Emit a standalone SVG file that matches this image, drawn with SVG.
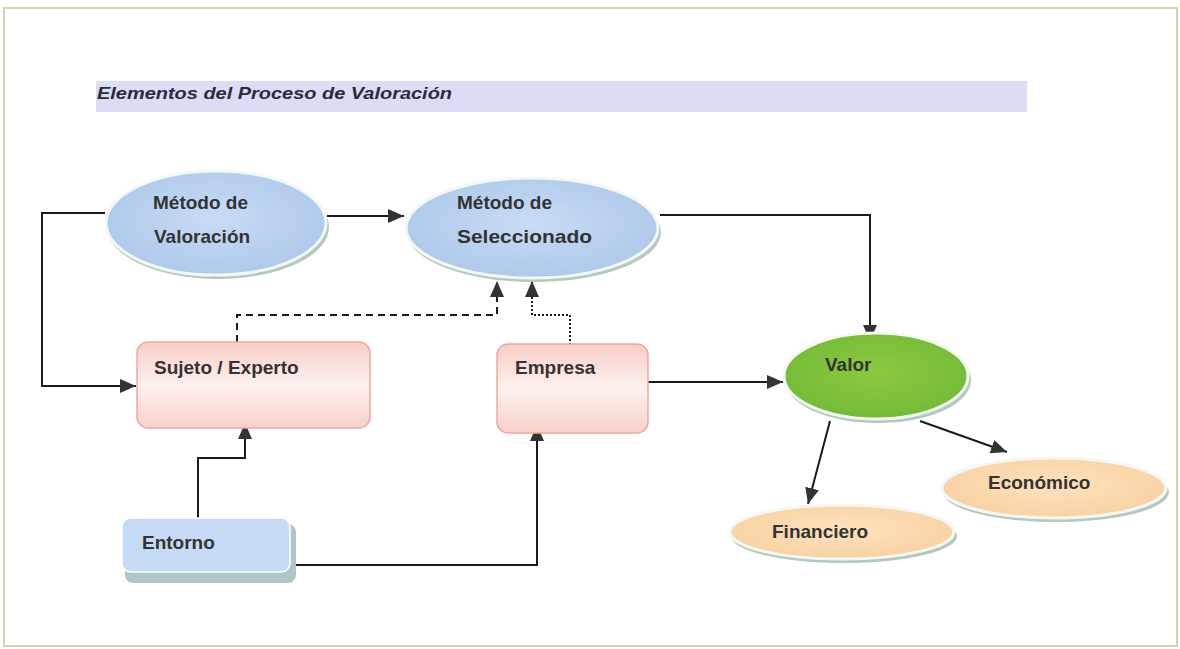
<svg xmlns="http://www.w3.org/2000/svg" width="1180" height="649" viewBox="0 0 1180 649">
  <defs>
    <radialGradient id="gBlue" cx="50%" cy="45%" r="60%">
      <stop offset="0" stop-color="#c8dcf4"/>
      <stop offset="1" stop-color="#abc7ea"/>
    </radialGradient>
    <radialGradient id="gGreen" cx="50%" cy="45%" r="60%">
      <stop offset="0" stop-color="#8dc940"/>
      <stop offset="1" stop-color="#72b936"/>
    </radialGradient>
    <radialGradient id="gPeach" cx="50%" cy="45%" r="60%">
      <stop offset="0" stop-color="#fde2bf"/>
      <stop offset="1" stop-color="#f8d09f"/>
    </radialGradient>
    <linearGradient id="gPink" x1="0" y1="0" x2="0" y2="1">
      <stop offset="0" stop-color="#f8cdc6"/>
      <stop offset="0.5" stop-color="#fdf1ef"/>
      <stop offset="1" stop-color="#f7d0c9"/>
    </linearGradient>
    <marker id="arr" markerUnits="userSpaceOnUse" markerWidth="17" markerHeight="14" refX="16" refY="7" orient="auto">
      <path d="M0,0 L16,7 L0,14 z" fill="#333"/>
    </marker>
    <style>
      .lbl { font-family: "Liberation Sans", Arial, sans-serif; font-weight: bold; font-size: 19px; fill: #333; }
      .conn { fill: none; stroke: #1a1a1a; stroke-width: 2; marker-end: url(#arr); }
      .shadowE { fill: #b3c9bd; }
      .rimE { stroke: #f4f8f4; stroke-width: 3; }
      .box { stroke: #f0a8a0; stroke-width: 1.5; fill: url(#gPink); }
    </style>
  </defs>

  <rect x="4" y="8" width="1173" height="638" fill="#ffffff" stroke="#c9d9aa" stroke-width="2"/>

  <g id="title">
    <rect x="96" y="81" width="931" height="31" fill="#dcdcf7"/>
    <text x="97" y="99" font-family="Liberation Sans, Arial, sans-serif" font-style="italic" font-weight="bold" font-size="17" fill="#2b2b3a" textLength="355" lengthAdjust="spacingAndGlyphs">Elementos del Proceso de Valoración</text>
  </g>

  <g id="connectors">
    <path class="conn" d="M327,216 H404"/>
    <path class="conn" d="M105,213 H42 V386 H136"/>
    <path class="conn" d="M237,342 V315 H497 V281" stroke-dasharray="7,5"/>
    <path class="conn" d="M570,345 V315 H532 V281" stroke-dasharray="2,2"/>
    <path class="conn" d="M660,215 H870 V341"/>
    <path class="conn" d="M648,382 H783"/>
    <path class="conn" d="M198,518 V458 H245 V423"/>
    <path class="conn" d="M290,565 H537 V425"/>
    <path class="conn" d="M830,421 L808,504"/>
    <path class="conn" d="M920,421 L1007,452"/>
  </g>

  <g id="metodo-valoracion">
    <ellipse class="shadowE" cx="218" cy="227" rx="111" ry="52"/>
    <ellipse class="rimE" cx="216" cy="223" rx="110" ry="52" fill="url(#gBlue)"/>
    <text class="lbl" x="153" y="209">Método de</text>
    <text class="lbl" x="154" y="243">Valoración</text>
  </g>

  <g id="metodo-seleccionado">
    <ellipse class="shadowE" cx="534" cy="232" rx="127" ry="50"/>
    <ellipse class="rimE" cx="532" cy="228" rx="126" ry="50" fill="url(#gBlue)"/>
    <text class="lbl" x="457" y="209">Método de</text>
    <text class="lbl" x="457" y="243" textLength="135" lengthAdjust="spacingAndGlyphs">Seleccionado</text>
  </g>

  <g id="sujeto-experto">
    <rect class="box" x="137" y="342" width="233" height="86" rx="11"/>
    <text class="lbl" x="154" y="374">Sujeto / Experto</text>
  </g>

  <g id="empresa">
    <rect class="box" x="497" y="344" width="151" height="89" rx="11"/>
    <text class="lbl" x="515" y="374">Empresa</text>
  </g>

  <g id="entorno">
    <rect x="125" y="524" width="171" height="59" rx="8" fill="#afc7c4"/>
    <rect x="122" y="518" width="168" height="54" rx="9" fill="#c6d9f5" stroke="#ffffff" stroke-width="1.5"/>
    <text class="lbl" x="142" y="549">Entorno</text>
  </g>

  <g id="valor">
    <ellipse class="shadowE" cx="878" cy="380" rx="93" ry="43"/>
    <ellipse class="rimE" cx="876" cy="376" rx="92" ry="43" fill="url(#gGreen)"/>
    <text class="lbl" x="825" y="371">Valor</text>
  </g>

  <g id="economico">
    <ellipse class="shadowE" cx="1056" cy="492" rx="113" ry="30" fill="#c3d0a0"/>
    <ellipse class="rimE" cx="1054" cy="488" rx="112" ry="30" fill="url(#gPeach)"/>
    <text class="lbl" x="988" y="489">Económico</text>
  </g>

  <g id="financiero">
    <ellipse class="shadowE" cx="844" cy="536" rx="113" ry="27" fill="#c3d0a0"/>
    <ellipse class="rimE" cx="842" cy="532" rx="112" ry="27" fill="url(#gPeach)"/>
    <text class="lbl" x="772" y="538">Financiero</text>
  </g>
</svg>
